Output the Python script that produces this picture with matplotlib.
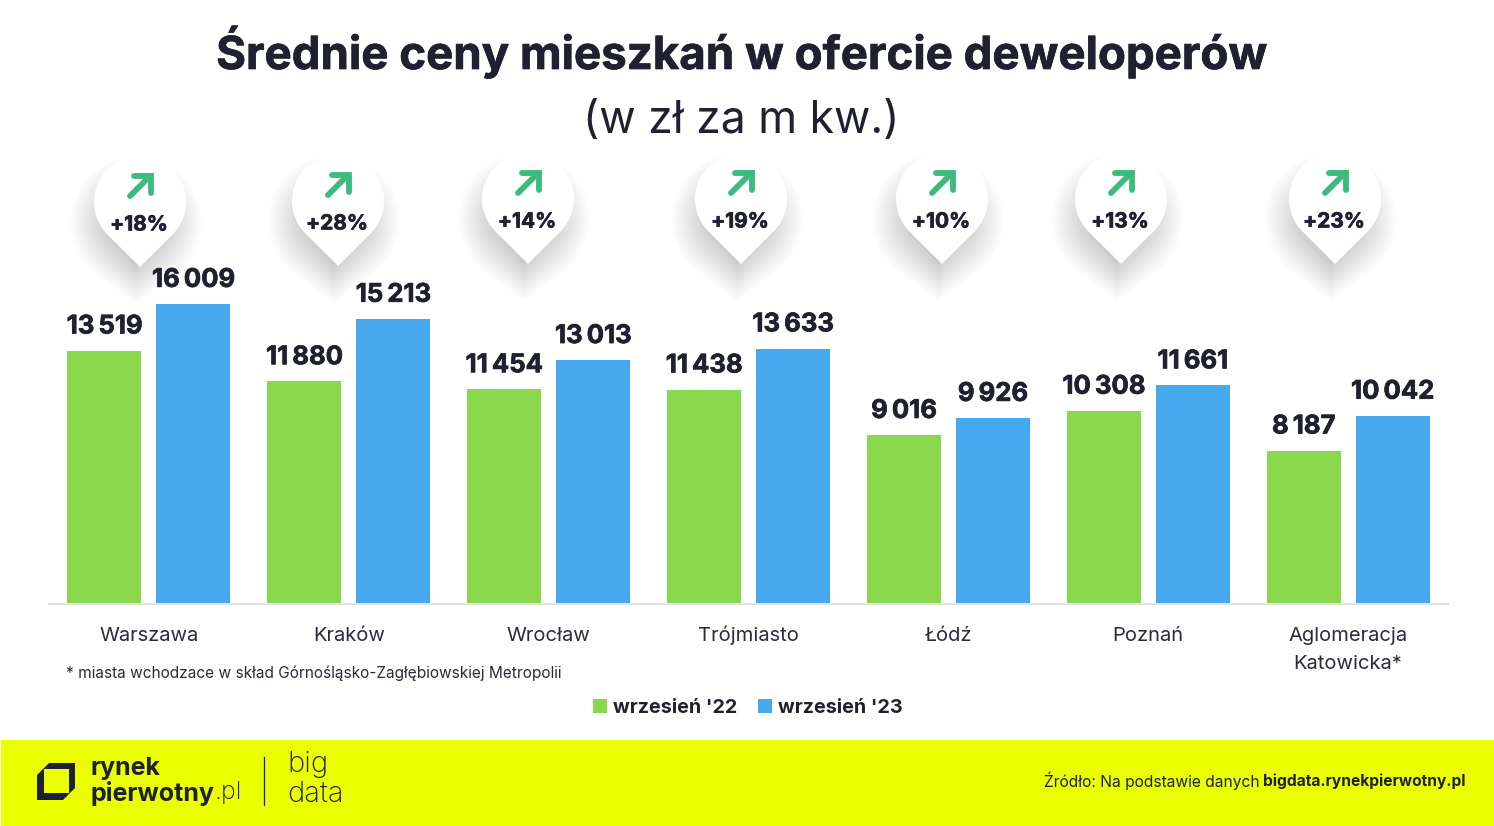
"""Srednie ceny mieszkan - bar chart with drop-shaped change markers."""

import numpy as np
import matplotlib
matplotlib.use("Agg")
import matplotlib.pyplot as plt
import matplotlib.patheffects as pe
from matplotlib.patches import Patch, PathPatch, Polygon, Rectangle
from matplotlib.path import Path
from matplotlib.transforms import ScaledTranslation

# ── Data ───────────────────────────────────────────────────────────────────

cities = ["Warszawa", "Kraków", "Wrocław", "Trójmiasto", "Łódź", "Poznań",
          "Aglomeracja\nKatowicka*"]
prices_2022 = [13519, 11880, 11454, 11438, 9016, 10308, 8187]
prices_2023 = [16009, 15213, 13013, 13633, 9926, 11661, 10042]
changes = ["+18%", "+28%", "+14%", "+19%", "+10%", "+13%", "+23%"]
series_names = ["wrzesień '22", "wrzesień '23"]

# ── Style ──────────────────────────────────────────────────────────────────

GREEN = "#8AD94C"
BLUE = "#46A9EE"
DARK = "#1F2130"
BAND = "#EAFF00"
ARROW = "#3DBB7F"
FONT = "Inter"
W, H = 1494, 826
HEAVY = [pe.withStroke(linewidth=0.5, foreground=DARK)]  # Inter bold is a bit lighter than the original

# pin centres in pixels, placed by hand like in the original graphic
pin_x = [140, 338, 528, 741, 942, 1121, 1335]
pin_y = [202, 201, 199, 199, 199, 199, 199]


def fmt(v):
    return f"{v:,}".replace(",", "\u2009")


def drop_outline(cx, cy, r, d):
    """Circle of radius r with a pointed tip d below its centre."""
    a = np.arccos(min(r / d, 1.0))
    t = np.linspace(np.pi / 2 + a, 2.5 * np.pi - a, 80)
    pts = np.column_stack([cx + r * np.cos(t), cy + r * np.sin(t)])
    return np.vstack([pts, [cx, cy + d]])


plt.rcParams["font.family"] = [FONT, "DejaVu Sans"]
fig = plt.figure(figsize=(W / 100, H / 100), dpi=100, facecolor="white")

# pixel overlay for everything that is not data driven
px = fig.add_axes([0, 0, 1, 1], zorder=1)
px.set_xlim(0, W)
px.set_ylim(H, 0)
px.axis("off")

ax = fig.add_axes([49 / W, (H - 604) / H, (1448 - 49) / W, (604 - 150) / H], zorder=2)
ax.patch.set_visible(False)

# ── Bars ───────────────────────────────────────────────────────────────────

x = np.arange(len(cities))
bar_w = 0.37
off = 0.2225
bars_a = ax.bar(x - off, prices_2022, bar_w, color=GREEN)
bars_b = ax.bar(x + off, prices_2023, bar_w, color=BLUE)
ax.set_xlim(-0.5, 6.5)
ax.set_ylim(0, 454 / 0.01874)

for bars, vals in ((bars_a, prices_2022), (bars_b, prices_2023)):
    for b, v in zip(bars, vals):
        ax.annotate(fmt(v), (b.get_x() + b.get_width() / 2, v), xytext=(0, 17),
                    textcoords="offset points", ha="center", va="center",
                    fontsize=18.5, fontweight="bold", color=DARK, path_effects=HEAVY)

for s in ("top", "left", "right"):
    ax.spines[s].set_visible(False)
ax.spines["bottom"].set_color("#E3E3E3")
ax.spines["bottom"].set_linewidth(1.4)
ax.set_yticks([])
ax.set_xticks(x)
ax.set_xticklabels(cities, fontsize=14.5, color="#2A2C3A", linespacing=1.7, va="baseline")
ax.tick_params(axis="x", length=0, pad=26.3)

# baseline alignment anchors on the last line, so push the two-line label down
for lab in ax.get_xticklabels():
    if "\n" in lab.get_text():
        lab.set_transform(lab.get_transform() + ScaledTranslation(0, -0.28, fig.dpi_scale_trans))

# ── Title ──────────────────────────────────────────────────────────────────

px.text(741, 52, "Średnie ceny mieszkań w ofercie deweloperów", ha="center", va="center",
        fontsize=32.85, fontweight="bold", color=DARK, path_effects=HEAVY)
px.text(741, 121, "(w zł za m kw.)", ha="center", va="center", fontsize=32,
        fontweight="normal", color=DARK)

# ── Drop markers ───────────────────────────────────────────────────────────

for cx, cy, label in zip(pin_x, pin_y, changes):
    for s in np.arange(24, -16, -1.5):
        px.add_patch(Polygon(drop_outline(cx - 4, cy + 20, 42 + s, 58 + s),
                             closed=True, fc="black", ec="none", alpha=0.008))
    px.add_patch(Polygon(drop_outline(cx, cy, 46, 65), closed=True, fc="white", ec="none"))
    # arrow
    px.plot([cx - 10, cx + 10], [cy - 6, cy - 26], color=ARROW, lw=4.2, solid_capstyle="round")
    px.plot([cx - 6, cx + 11, cx + 11], [cy - 26, cy - 26, cy - 9], color=ARROW, lw=4.2,
            solid_capstyle="round", solid_joinstyle="miter")
    px.text(cx - 1, cy + 22.5, label, ha="center", va="center", fontsize=15,
            fontweight="bold", color=DARK, path_effects=HEAVY)

# ── Footnote and legend ────────────────────────────────────────────────────

px.text(66, 673, "* miasta wchodzace w skład Górnośląsko-Zagłębiowskiej Metropolii",
        ha="left", va="center", fontsize=11.1, color="#2A2C3A")

handles = [Patch(fc=GREEN, label=series_names[0]), Patch(fc=BLUE, label=series_names[1])]
fig.legend(handles=handles, loc="center", bbox_to_anchor=(747.5 / W, 1 - 708 / H), ncol=2,
           frameon=False, handlelength=0.71, handleheight=0.71, handletextpad=0.3,
           columnspacing=1.05, prop={"size": 14.2, "weight": "bold"}, labelcolor=DARK)

# ── Footer band ────────────────────────────────────────────────────────────

px.add_patch(Rectangle((1, 740), W, 86, fc=BAND, ec="none"))

logo = Path(
    [(37, 775), (49, 763), (75, 763), (75, 788), (63, 800), (37, 800), (37, 775),
     (44, 769), (44, 793), (69, 793), (69, 769), (44, 769)],
    [Path.MOVETO] + [Path.LINETO] * 5 + [Path.CLOSEPOLY,
     Path.MOVETO] + [Path.LINETO] * 3 + [Path.CLOSEPOLY],
)
px.add_patch(PathPatch(logo, fc=DARK, ec="none"))

px.text(90, 769, "rynek", ha="left", va="center", fontsize=18, fontweight="bold", color=DARK)
t_pw = px.text(90, 793, "pierwotny", ha="left", va="center", fontsize=18, fontweight="bold",
               color=DARK)
px.plot([263.5, 263.5], [757, 805], color=DARK, lw=0.9)
px.text(287, 765, "big", ha="left", va="center", fontsize=21, fontweight="light", color=DARK)
px.text(287, 794, "data", ha="left", va="center", fontsize=21, fontweight="light", color=DARK)

t_src = px.text(1465, 781, "bigdata.rynekpierwotny.pl", ha="right", va="center", fontsize=11.2,
                fontweight="bold", color=DARK)

fig.canvas.draw()
r = fig.canvas.get_renderer()
px.text(t_pw.get_window_extent(r).x1 + 1, 793, ".pl", ha="left", va="center", fontsize=18,
        fontweight="light", color=DARK)
px.text(t_src.get_window_extent(r).x0 - 3, 781, "Źródło: Na podstawie danych", ha="right",
        va="center", fontsize=11.2, color=DARK)

fig.savefig("out.png", dpi=100)
